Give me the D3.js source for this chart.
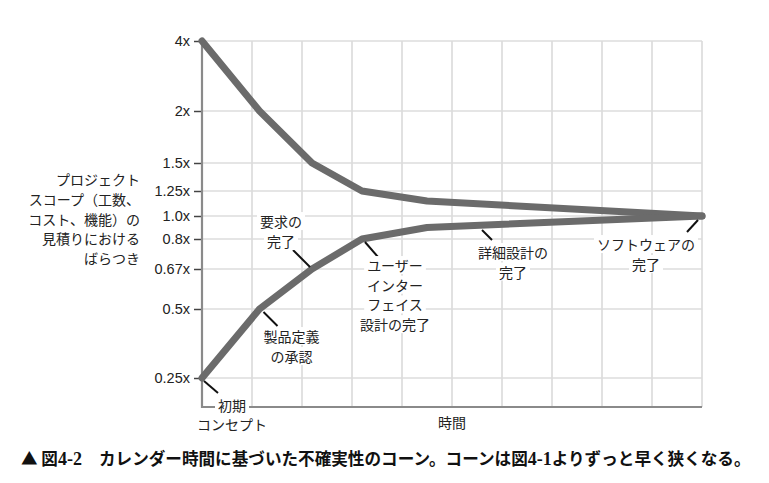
<!DOCTYPE html>
<html>
<head>
<meta charset="utf-8">
<script src="https://cdn.jsdelivr.net/npm/d3@7"></script>
<style>
  html, body { margin: 0; padding: 0; background: #fff; }
  svg { display: block; }
</style>
</head>
<body>
<svg id="chart" width="769" height="483"></svg>
<script>
// Cone of uncertainty based on calendar time (fig 4-2)
const yTicks = [0.25, 0.5, 0.67, 0.8, 1.0, 1.25, 1.5, 2, 4];
const yTickLabels = ["0.25x", "0.5x", "0.67x", "0.8x", "1.0x", "1.25x", "1.5x", "2x", "4x"];
// vertical spacing of the printed axis is hand drawn, not a true log scale
const yTickPos = [378, 309, 269, 239, 216, 191, 163, 111, 41];

const milestoneTime = [0, 1.15, 2.2, 3.2, 4.5, 10];
const upperBound = [4, 2, 1.5, 1.25, 1.15, 1.0];
const lowerBound = [0.25, 0.5, 0.67, 0.8, 0.9, 1.0];
const milestoneLabels = [
  ["初期", "コンセプト"],
  ["製品定義", "の承認"],
  ["要求の", "完了"],
  ["ユーザー", "インター", "フェイス", "設計の完了"],
  ["詳細設計の", "完了"],
  ["ソフトウェアの", "完了"]
];
const yTitle = ["プロジェクト", "スコープ（工数、", "コスト、機能）の", "見積りにおける", "ばらつき"];
const xTitle = "時間";
const caption = [
  { t: "▲ 図", serif: false },
  { t: "4-2", serif: true },
  { t: "カレンダー時間に基づいた不確実性のコーン。コーンは図", serif: false, gap: 17 },
  { t: "4-1", serif: true },
  { t: "よりずっと早く狭くなる。", serif: false }
];

// annotation placement relative to the point on the lower curve
const annLayout = [
  { lead: [2, 3, 16, 15], label: [30, 28], lh: 19 },
  { lead: [4, 3, 18, 17], label: [32, 28], lh: 20 },
  { lead: [-2, -2, -19, -19], label: [-31, -47], lh: 20 },
  { lead: [3, 3, 16, 18], label: [33, 27], lh: 19.7 },
  { lead: [55, 2.5, 65, 12.5], label: [86, 25.5], lh: 19.5 },
  { lead: [-4, 4, -15, 16], label: [-56, 29], lh: 20 }
];

const svg = d3.select("#chart");
const plot = { left: 202, right: 702, top: 41, bottom: 407 };

svg.append("rect").attr("width", 769).attr("height", 483).attr("fill", "#fff");

const x = d3.scaleLinear().domain([0, 10]).range([plot.left, plot.right]);
const y = d3.scaleLinear().domain(yTicks).range(yTickPos);

const jp = "'Noto Sans CJK JP', 'Noto Sans', sans-serif";
const latin = "'Liberation Sans', Arial, 'Noto Sans CJK JP', sans-serif";
const serif = "'Liberation Serif', 'Times New Roman', serif";

// grid
const grid = svg.append("g")
  .attr("stroke", "#dcdcdc")
  .attr("stroke-width", 1.7);
grid.selectAll("line.h")
  .data(yTicks)
  .join("line")
  .attr("class", "h")
  .attr("x1", plot.left).attr("x2", plot.right)
  .attr("y1", d => y(d)).attr("y2", d => y(d));
grid.selectAll("line.v")
  .data(x.ticks(10).slice(1))
  .join("line")
  .attr("class", "v")
  .attr("x1", d => x(d)).attr("x2", d => x(d))
  .attr("y1", plot.top).attr("y2", plot.bottom);

// y axis
const yAxis = svg.append("g")
  .attr("transform", `translate(${plot.left},0)`)
  .call(d3.axisLeft(y)
    .tickValues(yTicks)
    .tickFormat((d, i) => yTickLabels[i])
    .tickSize(8)
    .tickPadding(4));
yAxis.select(".domain").remove();
yAxis.selectAll(".tick line").attr("stroke", "#444").attr("stroke-width", 1.5);
yAxis.selectAll(".tick text")
  .attr("fill", "#222")
  .style("font", `14.5px ${latin}`);

// axis frame lines
svg.append("path")
  .attr("d", `M${plot.left},${plot.top}V${plot.bottom}H${plot.right}`)
  .attr("fill", "none")
  .attr("stroke", "#8a8a8a")
  .attr("stroke-width", 2.2);

// cone lines
const line = d3.line()
  .x((d, i) => x(milestoneTime[i]))
  .y(d => y(d));
svg.selectAll("path.cone")
  .data([upperBound, lowerBound])
  .join("path")
  .attr("class", "cone")
  .attr("d", line)
  .attr("fill", "none")
  .attr("stroke", "#6b6b6b")
  .attr("stroke-width", 7)
  .attr("stroke-linejoin", "round")
  .attr("stroke-linecap", "round");

// annotations
const ann = svg.append("g");
milestoneLabels.forEach((lines, i) => {
  const ax = x(milestoneTime[i]), ay = y(lowerBound[i]);
  const L = annLayout[i];
  ann.append("line")
    .attr("x1", ax + L.lead[0]).attr("y1", ay + L.lead[1])
    .attr("x2", ax + L.lead[2]).attr("y2", ay + L.lead[3])
    .attr("stroke", "#111")
    .attr("stroke-width", 2);
  const g = ann.append("g");
  lines.forEach((s, j) => {
    const t = g.append("text")
      .attr("x", ax + L.label[0])
      .attr("y", ay + L.label[1] + j * L.lh)
      .attr("dy", "0.36em")
      .attr("text-anchor", "middle")
      .attr("fill", "#222")
      .style("font", `14px ${jp}`)
      .text(s);
    const b = t.node().getBBox();
    g.insert("rect", "text")
      .attr("x", b.x - 3).attr("y", b.y + 1)
      .attr("width", b.width + 6).attr("height", b.height - 2)
      .attr("fill", "#fff");
  });
});

// y title
svg.append("g")
  .selectAll("text")
  .data(yTitle)
  .join("text")
  .attr("x", 140)
  .attr("y", (d, i) => 180 + i * 19.8)
  .attr("dy", "0.36em")
  .attr("text-anchor", "end")
  .attr("fill", "#222")
  .style("font", `14px ${jp}`)
  .text(d => d);

// x title
svg.append("text")
  .attr("x", x(5))
  .attr("y", 423)
  .attr("dy", "0.36em")
  .attr("text-anchor", "middle")
  .attr("fill", "#222")
  .style("font", `14px ${jp}`)
  .text(xTitle);

// caption
const cap = svg.append("text")
  .attr("x", 21)
  .attr("y", 465)
  .attr("fill", "#111")
  .style("font", `bold 16.6px ${jp}`);
caption.forEach(c => {
  const ts = cap.append("tspan").text(c.t);
  if (c.gap) ts.attr("dx", c.gap);
  if (c.serif) {
    ts.style("font-family", serif)
      .style("font-size", "18px");
  }
});
</script>
</body>
</html>
